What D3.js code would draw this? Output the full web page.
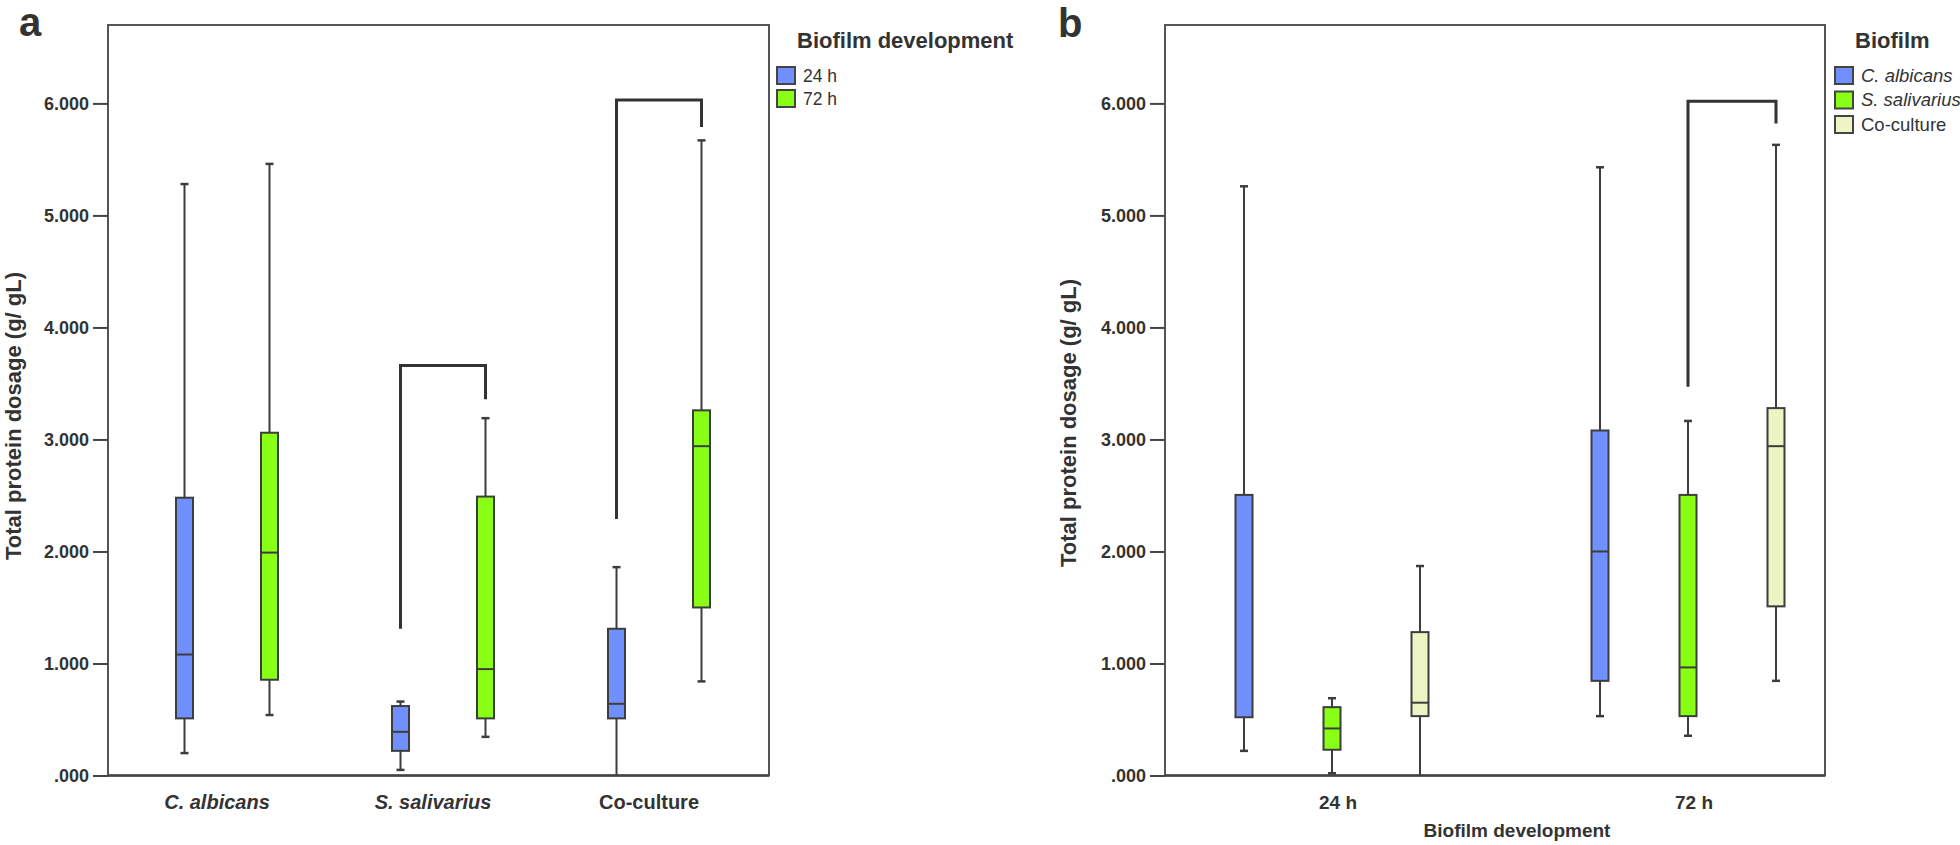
<!DOCTYPE html>
<html>
<head>
<meta charset="utf-8">
<script src="https://cdn.jsdelivr.net/npm/d3@7"></script>
<style>
  body { margin: 0; background: #fff; }
  svg text { font-family: "Liberation Sans", Arial, Helvetica, sans-serif; fill: #333; }
</style>
</head>
<body>
<svg id="chart" width="1960" height="845"></svg>
<script>
// ---- data ----
var yTicks = [0, 1, 2, 3, 4, 5, 6];
var yTickLabels = ['.000', '1.000', '2.000', '3.000', '4.000', '5.000', '6.000'];

// panel a: grouped by organism, coloured by time
var groupsA = ['C. albicans', 'S. salivarius', 'Co-culture'];
var timesA = ['24 h', '72 h'];
// [lower whisker, q1, median, q3, upper whisker]
var albicans24 = [0.20, 0.51, 1.08, 2.48, 5.28];
var albicans72 = [0.54, 0.855, 1.99, 3.06, 5.46];
var salivarius24 = [0.05, 0.22, 0.39, 0.62, 0.66];
var salivarius72 = [0.345, 0.51, 0.95, 2.49, 3.19];
var coculture24 = [0.00, 0.51, 0.64, 1.31, 1.86];
var coculture72 = [0.84, 1.50, 2.94, 3.26, 5.67];
// brackets: [left leg end, top, right leg end]
var bracketSalivarius = [1.31, 3.66, 3.36];
var bracketCoculture = [2.29, 6.03, 5.79];

// panel b: grouped by time, coloured by organism
var timesB = ['24 h', '72 h'];
var speciesB = ['C. albicans', 'S. salivarius', 'Co-culture'];
var albicansB24 = [0.22, 0.52, null, 2.505, 5.26];
var salivariusB24 = [0.02, 0.23, 0.42, 0.61, 0.69];
var cocultureB24 = [0.00, 0.53, 0.65, 1.28, 1.87];
var albicansB72 = [0.53, 0.845, 2.00, 3.08, 5.43];
var salivariusB72 = [0.355, 0.53, 0.965, 2.505, 3.165];
var cocultureB72 = [0.845, 1.51, 2.94, 3.28, 5.63];
var bracket72 = [3.47, 6.02, 5.82];

var timeColors = ['#7090ff', '#88ff14'];
var speciesColors = ['#7090ff', '#88ff14', '#eef4c4'];

// ---- drawing ----
var svg = d3.select('#chart');
svg.append('rect').attr('width', 1960).attr('height', 845).attr('fill', '#fff');

var stroke = '#3d3d3d';
var boxW = 17;
var capW = 8;

var y = d3.scaleLinear().domain([0, 6.7]).range([775.5, 25]);

var drawFrame = function (g, left, right) {
  g.append('rect')
    .attr('x', left).attr('y', y.range()[1])
    .attr('width', right - left).attr('height', y.range()[0] - y.range()[1])
    .attr('fill', 'none').attr('stroke', '#555').attr('stroke-width', 2);
  g.append('line')
    .attr('x1', left).attr('x2', right)
    .attr('y1', y(0)).attr('y2', y(0))
    .attr('stroke', '#444').attr('stroke-width', 2.5);

  var yAxis = d3.axisLeft(y)
    .tickValues(yTicks)
    .tickFormat(function (d, i) { return yTickLabels[i]; })
    .tickSize(15)
    .tickPadding(4);
  var ax = g.append('g')
    .attr('transform', 'translate(' + left + ',0)')
    .call(yAxis);
  ax.select('.domain').remove();
  ax.selectAll('line').attr('stroke', '#444').attr('stroke-width', 2);
  ax.selectAll('text')
    .style('font-size', '18px').style('font-weight', 'bold')
    .attr('fill', '#333');
};

var drawBoxes = function (g, items) {
  items.forEach(function (d) {
    var s = d.s, cx = d.cx;
    var lo = s[0], q1 = s[1], med = s[2], q3 = s[3], hi = s[4];
    // whiskers
    g.append('line').attr('x1', cx).attr('x2', cx)
      .attr('y1', y(hi)).attr('y2', y(q3))
      .attr('stroke', stroke).attr('stroke-width', 2);
    g.append('line').attr('x1', cx).attr('x2', cx)
      .attr('y1', y(q1)).attr('y2', y(lo))
      .attr('stroke', stroke).attr('stroke-width', 2);
    [hi, lo].forEach(function (v) {
      if (v <= 0) return;
      g.append('line')
        .attr('x1', cx - capW / 2).attr('x2', cx + capW / 2)
        .attr('y1', y(v)).attr('y2', y(v))
        .attr('stroke', stroke).attr('stroke-width', 2.5);
    });
    // box
    g.append('rect')
      .attr('x', cx - boxW / 2).attr('width', boxW)
      .attr('y', y(q3)).attr('height', y(q1) - y(q3))
      .attr('fill', d.color)
      .attr('stroke', stroke).attr('stroke-width', 2);
    if (med !== null) {
      g.append('line')
        .attr('x1', cx - boxW / 2).attr('x2', cx + boxW / 2)
        .attr('y1', y(med)).attr('y2', y(med))
        .attr('stroke', stroke).attr('stroke-width', 2);
    }
  });
};

var drawBracket = function (g, xl, xr, b) {
  g.append('path')
    .attr('d', 'M' + xl + ',' + y(b[0]) + 'V' + y(b[1]) + 'H' + xr + 'V' + y(b[2]))
    .attr('fill', 'none')
    .attr('stroke', '#333').attr('stroke-width', 3);
};

var drawLegend = function (g, x, title, labels, colors, italic, step, fs) {
  g.append('text')
    .attr('x', x + 20).attr('y', 48)
    .style('font-size', '22px').style('font-weight', 'bold')
    .text(title);
  labels.forEach(function (lab, i) {
    var top = 67 + i * step;
    g.append('rect')
      .attr('x', x).attr('y', top)
      .attr('width', 18).attr('height', 17)
      .attr('fill', colors[i])
      .attr('stroke', '#444').attr('stroke-width', 2);
    g.append('text')
      .attr('x', x + 26).attr('y', top + 14.5)
      .style('font-size', fs + 'px')
      .style('font-style', italic[i] ? 'italic' : 'normal')
      .text(lab);
  });
};

var yTitle = function (g, x, cy) {
  g.append('text')
    .attr('transform', 'translate(' + x + ',' + cy + ') rotate(-90)')
    .attr('text-anchor', 'middle')
    .style('font-size', '22px').style('font-weight', 'bold')
    .text('Total protein dosage (g/ gL)');
};

// ----- panel a -----
var ga = svg.append('g');
var xA = d3.scalePoint().domain(groupsA).range([227, 659]);
var xAin = d3.scalePoint().domain(timesA).range([-42.5, 42.5]);
drawFrame(ga, 108, 769);

var seriesA = [
  [albicans24, albicans72],
  [salivarius24, salivarius72],
  [coculture24, coculture72]
];
var itemsA = [];
groupsA.forEach(function (grp, i) {
  timesA.forEach(function (t, j) {
    itemsA.push({ cx: xA(grp) + xAin(t), s: seriesA[i][j], color: timeColors[j] });
  });
});
drawBoxes(ga, itemsA);
drawBracket(ga, xA('S. salivarius') + xAin('24 h'), xA('S. salivarius') + xAin('72 h'), bracketSalivarius);
drawBracket(ga, xA('Co-culture') + xAin('24 h'), xA('Co-culture') + xAin('72 h'), bracketCoculture);

ga.selectAll('.xlab').data(groupsA).enter().append('text')
  .attr('class', 'xlab')
  .attr('x', function (d) { return xA(d) - 10; })
  .attr('y', 809)
  .attr('text-anchor', 'middle')
  .style('font-size', '20px').style('font-weight', 'bold')
  .style('font-style', function (d, i) { return i < 2 ? 'italic' : 'normal'; })
  .text(function (d) { return d; });

yTitle(ga, 21, 416);
ga.append('text').attr('x', 19).attr('y', 36)
  .style('font-size', '40px').style('font-weight', 'bold').text('a');
drawLegend(ga, 777, 'Biofilm development', timesA, timeColors, [false, false], 23, 17.5);

// ----- panel b -----
var gb = svg.append('g');
var xB = d3.scalePoint().domain(timesB).range([1332, 1688]);
var xBin = d3.scalePoint().domain(speciesB).range([-88, 88]);
drawFrame(gb, 1165, 1825);

var seriesB = [
  [albicansB24, salivariusB24, cocultureB24],
  [albicansB72, salivariusB72, cocultureB72]
];
var itemsB = [];
timesB.forEach(function (t, i) {
  speciesB.forEach(function (sp, j) {
    itemsB.push({ cx: xB(t) + xBin(sp), s: seriesB[i][j], color: speciesColors[j] });
  });
});
drawBoxes(gb, itemsB);
drawBracket(gb, xB('72 h') + xBin('S. salivarius'), xB('72 h') + xBin('Co-culture'), bracket72);

gb.selectAll('.xlab').data(timesB).enter().append('text')
  .attr('class', 'xlab')
  .attr('x', function (d) { return xB(d) + 6; })
  .attr('y', 809)
  .attr('text-anchor', 'middle')
  .style('font-size', '19px').style('font-weight', 'bold')
  .text(function (d) { return d; });
gb.append('text')
  .attr('x', 1517).attr('y', 837)
  .attr('text-anchor', 'middle')
  .style('font-size', '19px').style('font-weight', 'bold')
  .text('Biofilm development');

yTitle(gb, 1076, 423);
gb.append('text').attr('x', 1058).attr('y', 37)
  .style('font-size', '40px').style('font-weight', 'bold').text('b');
drawLegend(gb, 1835, 'Biofilm', speciesB, speciesColors, [true, true, false], 24.5, 18.5);
</script>
</body>
</html>
